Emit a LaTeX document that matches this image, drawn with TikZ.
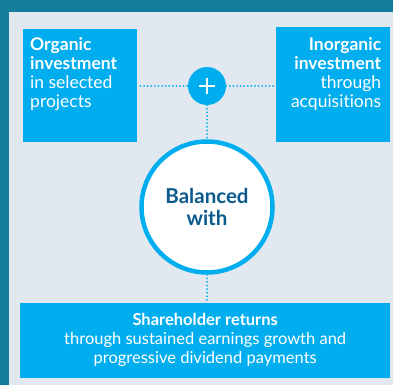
\documentclass[tikz,border=0pt]{standalone}
\usepackage{fontspec}
\setmainfont{Lato}[Ligatures=NoCommon]
\definecolor{cyanbox}{HTML}{00AEEF}
\definecolor{panelgrey}{HTML}{E2E8EF}
\definecolor{frameteal}{HTML}{137E9C}
\definecolor{darkblue}{HTML}{0B5A8E}
\tikzset{
  box/.style = {fill=cyanbox, inner sep=0pt},
  boxtext/.style = {text=white, font=\fontsize{17.5}{19}\selectfont, inner sep=0pt},
  dotline/.style = {cyanbox, line width=2pt, line cap=round, dash pattern=on 0pt off 3.6pt},
}
\begin{document}
\begin{tikzpicture}[x=1pt, y=-1pt]
    \useasboundingbox (0,0) rectangle (393,385);
    \fill[frameteal] (0,0) rectangle (393,385);
    \fill[panelgrey] (9,12) rectangle (393,385);
    \node[box, minimum width=114pt, minimum height=113pt, anchor=north west] (organic) at (23,29) {};
    \node[boxtext, anchor=north west, align=left] (organictxt) at ([shift={(7,8)}]organic.north west)
        {\textbf{Organic}\\\textbf{investment}\\in selected\\projects};
    \node[box, minimum width=114pt, minimum height=115pt, anchor=north west] (inorganic) at (276,27) {};
    \node[boxtext, anchor=north east, align=right] (inorganictxt) at ([shift={(-9,10)}]inorganic.north east)
        {\textbf{Inorganic}\\\textbf{investment}\\through\\acquisitions};
    \node[circle, fill=cyanbox, minimum size=38pt, inner sep=0pt] (plus) at (207,86) {};
    \draw[white, line width=1.8pt] ([xshift=-8pt]plus.center) -- ([xshift=8pt]plus.center);
    \draw[white, line width=1.8pt] ([yshift=-8pt]plus.center) -- ([yshift=8pt]plus.center);
    \node[circle, draw=cyanbox, line width=4.5pt, fill=white, minimum size=131pt, inner sep=0pt,
          text=darkblue, font=\fontsize{20.5}{22}\selectfont\bfseries, align=center] (balanced) at (207,207)
        {Balanced\\with};
    \node[box, minimum width=370pt, minimum height=75pt, anchor=north west] (returns) at (20,303) {};
    \node[boxtext, align=center, font=\fontsize{16.5}{19}\selectfont] (returnstxt) at ([yshift=1]returns.center)
        {\textbf{Shareholder returns}\\through sustained earnings growth and\\progressive dividend payments};
    \draw[dotline] (organic.east |- plus) ++(3,0) -- (plus.west);
    \draw[dotline] (plus.east) -- ([xshift=-1]inorganic.west |- plus);
    \draw[dotline] (plus.south) -- (balanced.north);
    \draw[dotline] (balanced.south) -- (returns.north -| balanced);
\end{tikzpicture}
\end{document}
